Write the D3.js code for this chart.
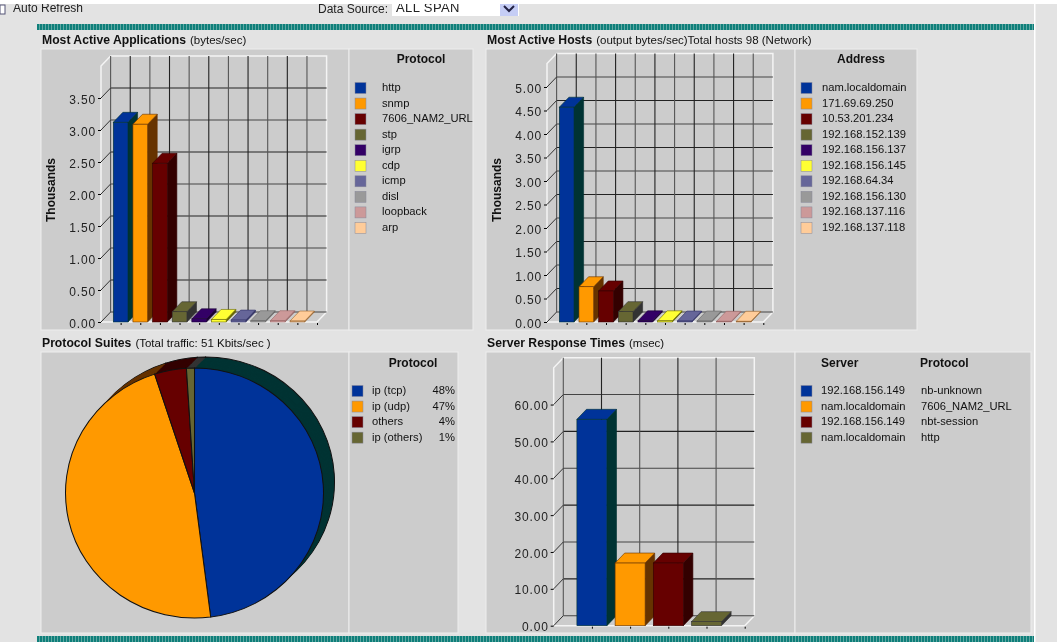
<!DOCTYPE html>
<html>
<head>
<meta charset="utf-8">
<script src="https://d3js.org/d3.v7.min.js"></script>
<style>
    html, body { margin: 0; padding: 0; background: #e3e3e3; overflow: hidden; }
    svg { display: block; font-family: "Liberation Sans", Arial, sans-serif; filter: blur(0.35px); }
    .axisTick text { font-size: 12px; letter-spacing: 0.85px; fill: #222; }
    .legend { font-size: 11.2px; fill: #111; }
    .head { font-size: 12px; font-weight: bold; fill: #111; }
    .title { font-size: 12.2px; fill: #111; }
</style>
</head>
<body>
<svg id="chart" width="1057" height="642"></svg>
<script>
// palette shared by every chart, front colour and darker side colour
var colors = ["#003399", "#ff9900", "#660000", "#666633", "#330066", "#ffff33", "#666699", "#999999", "#cc9999", "#ffcc99"];
var sideColors = ["#003333", "#663300", "#330000", "#333333", "#1a0033", "#666600", "#333366", "#666666", "#996666", "#996633"];

// Most Active Applications
var appNames = ["http", "snmp", "7606_NAM2_URL", "stp", "igrp", "cdp", "icmp", "disl", "loopback", "arp"];
var appValues = [3.12, 3.09, 2.48, 0.16, 0.05, 0.04, 0.03, 0.02, 0.02, 0.015];
var appTicks = [0, 0.5, 1, 1.5, 2, 2.5, 3, 3.5];

// Most Active Hosts
var hostNames = ["nam.localdomain", "171.69.69.250", "10.53.201.234", "192.168.152.139", "192.168.156.137", "192.168.156.145", "192.168.64.34", "192.168.156.130", "192.168.137.116", "192.168.137.118"];
var hostValues = [4.57, 0.75, 0.66, 0.22, 0.025, 0.025, 0.02, 0.02, 0.015, 0.015];
var hostTicks = [0, 0.5, 1, 1.5, 2, 2.5, 3, 3.5, 4, 4.5, 5];

// Protocol Suites
var suiteNames = ["ip (tcp)", "ip (udp)", "others", "ip (others)"];
var suitePercents = [48, 47, 4, 1];

// Server Response Times
var serverNames = ["192.168.156.149", "nam.localdomain", "192.168.156.149", "nam.localdomain"];
var serverProtocols = ["nb-unknown", "7606_NAM2_URL", "nbt-session", "http"];
var serverValues = [56, 17, 17, 1.1];
var serverTicks = [0, 10, 20, 30, 40, 50, 60];

var svg = d3.select("#chart");

// teal stripe texture
var stripe = svg.append("defs").append("pattern")
    .attr("id", "stripe").attr("width", 3).attr("height", 6)
    .attr("patternUnits", "userSpaceOnUse");
stripe.append("rect").attr("width", 3).attr("height", 6).attr("fill", "#0f7f7a");
stripe.append("rect").attr("width", 1).attr("height", 6).attr("fill", "#5fa8a3");

// page furniture
svg.append("rect").attr("width", 1057).attr("height", 4).attr("fill", "#fff");
svg.append("rect").attr("x", 37).attr("y", 24).attr("width", 997).attr("height", 6).attr("fill", "url(#stripe)");
svg.append("rect").attr("x", 37).attr("y", 636).attr("width", 997).attr("height", 6).attr("fill", "url(#stripe)");
svg.append("rect").attr("x", 1034).attr("y", 4).attr("width", 1.5).attr("height", 638).attr("fill", "#fff");

svg.append("rect").attr("x", 0).attr("y", 5).attr("width", 5).attr("height", 9)
    .attr("fill", "#fff").attr("stroke", "#557").attr("stroke-width", 1);
svg.append("text").attr("x", 13).attr("y", 12).attr("font-size", 12).attr("fill", "#222").text("Auto Refresh");
svg.append("text").attr("x", 318).attr("y", 13).attr("font-size", 12).attr("fill", "#222").text("Data Source:");
svg.append("rect").attr("x", 392).attr("y", 4).attr("width", 127).attr("height", 12).attr("fill", "#fff");
svg.append("text").attr("x", 396).attr("y", 12).attr("font-size", 13).attr("letter-spacing", 0.4).attr("fill", "#222").text("ALL SPAN");
svg.append("rect").attr("x", 500).attr("y", 4).attr("width", 18).attr("height", 12).attr("fill", "#c5cdf5");
svg.append("path").attr("d", "M504 6 L509 11 L514 6").attr("fill", "none").attr("stroke", "#224", "stroke-width", 2).attr("stroke-width", 2);
svg.append("rect").attr("y", 0).attr("width", 1057).attr("height", 4).attr("fill", "#fff");

function drawPanel(p) {
    svg.append("rect").attr("x", p.x).attr("y", p.y).attr("width", p.divider - p.x).attr("height", p.h)
        .attr("fill", "#ccc").attr("stroke", "#eee");
    svg.append("rect").attr("x", p.divider).attr("y", p.y).attr("width", p.right - p.divider).attr("height", p.h)
        .attr("fill", "#ccc").attr("stroke", "#eee");
    var t = svg.append("text").attr("class", "title").attr("x", p.x + 1).attr("y", p.y - 5);
    t.append("tspan").attr("font-weight", "bold").text(p.title);
    t.append("tspan").attr("dx", 4).attr("font-size", 11.5).text(p.sub);
}

function drawBars(c) {
    var g = svg.append("g");
    var y = d3.scaleLinear().domain([0, c.max]).range([c.y0, c.yTop]);
    var step = (c.right - c.left) / (c.names.length + 1);
    var x = d3.scalePoint().domain(c.names.map(function (d, i) { return i; }).concat([c.names.length]))
        .range([c.left + step, c.right]);
    var dx = c.dx, dy = c.dy;

    // walls and floor outline
    g.append("path")
        .attr("d", "M" + c.left + " " + c.y0 + " L" + c.left + " " + c.yTop + " L" + (c.left + dx) + " " + (c.yTop - dy)
            + " L" + (c.right + dx) + " " + (c.yTop - dy) + " L" + (c.right + dx) + " " + (c.y0 - dy)
            + " L" + c.right + " " + c.y0 + " Z")
        .attr("fill", "none").attr("stroke", "#f4f4f4").attr("stroke-width", 1.5);

    // grid on the back wall
    g.selectAll(".hgrid").data(c.ticks.concat()).enter().append("line")
        .attr("x1", c.left + dx).attr("x2", c.right + dx)
        .attr("y1", function (d) { return y(d) - dy; }).attr("y2", function (d) { return y(d) - dy; })
        .attr("stroke", function (d, i) { return i % 2 ? "#222" : "#444"; }).attr("stroke-width", 1.1);
    g.selectAll(".vgrid").data(d3.range(c.names.length + 1)).enter().append("line")
        .attr("x1", function (i) { return c.left + dx + i * step; })
        .attr("x2", function (i) { return c.left + dx + i * step; })
        .attr("y1", c.yTop - dy).attr("y2", c.y0 - dy)
        .attr("stroke", function (i) { return i % 2 ? "#222" : "#555"; }).attr("stroke-width", 1.1);

    // diagonal joins from the front axis to the back wall
    g.selectAll(".join").data(c.ticks).enter().append("line")
        .attr("x1", c.left).attr("x2", c.left + dx)
        .attr("y1", function (d) { return y(d); }).attr("y2", function (d) { return y(d) - dy; })
        .attr("stroke", "#333").attr("stroke-width", 1);

    // axes
    var yAxis = g.append("g").attr("class", "axisTick")
        .attr("transform", "translate(" + c.left + ",0)")
        .call(d3.axisLeft(y).tickValues(c.ticks).tickFormat(d3.format(".2f")).tickSize(3).tickPadding(1));
    yAxis.select(".domain").remove();
    yAxis.selectAll("text").attr("dy", "0.9em").attr("dx", "-1");
    yAxis.selectAll("text").attr("dy", "0.42em");

    var xAxis = g.append("g")
        .attr("transform", "translate(0," + (c.y0 + 1) + ")")
        .call(d3.axisBottom(x).tickSize(2).tickFormat(""));
    xAxis.select(".domain").remove();

    // bars, left to right so each one covers the side of the previous
    var w = c.barW;
    c.values.forEach(function (v, i) {
        var x0 = x(i) - w / 2, x1 = x(i) + w / 2, top = y(v);
        var pts = function (a) { return a.map(function (p) { return p.join(","); }).join(" "); };
        g.append("polygon")
            .attr("points", pts([[x1, c.y0], [x1 + dx, c.y0 - dy], [x1 + dx, top - dy], [x1, top]]))
            .attr("fill", sideColors[i]).attr("stroke", sideColors[i]).attr("stroke-width", 0.6);
        g.append("polygon")
            .attr("points", pts([[x0, top], [x0 + dx, top - dy], [x1 + dx, top - dy], [x1, top]]))
            .attr("fill", colors[i]).attr("stroke", sideColors[i]).attr("stroke-width", 0.6);
        g.append("rect").attr("x", x0).attr("y", top).attr("width", w).attr("height", Math.max(c.y0 - top, 0.5))
            .attr("fill", colors[i]).attr("stroke", sideColors[i]).attr("stroke-width", 0.6);
    });

    if (c.yLabel) {
        g.append("text").attr("class", "head")
            .attr("transform", "translate(" + (c.left - 46) + "," + c.labelY + ") rotate(-90)")
            .attr("text-anchor", "middle").text(c.yLabel);
    }
}

function drawPie(c) {
    var g = svg.append("g");
    var slices = d3.pie().sort(null)(c.values);
    var arc = d3.arc().innerRadius(0).outerRadius(c.ry);
    var sx = c.rx / c.ry;

    // extruded rim, back layer first
    d3.range(c.depth, 0, -1).forEach(function (k) {
        var f = k / c.depth;
        var layer = g.append("g")
            .attr("transform", "translate(" + (c.cx + c.dx * f) + "," + (c.cy - c.dy * f) + ") scale(" + sx + ",1)");
        layer.selectAll("path").data(slices).enter().append("path")
            .attr("d", arc)
            .attr("fill", function (d, i) { return sideColors[i]; })
            .attr("stroke", k === c.depth ? "#111" : "none")
            .attr("stroke-width", 1);
    });

    var front = g.append("g")
        .attr("transform", "translate(" + c.cx + "," + c.cy + ") scale(" + sx + ",1)");
    front.selectAll("path").data(slices).enter().append("path")
        .attr("d", arc)
        .attr("fill", function (d, i) { return colors[i]; })
        .attr("stroke", "#111").attr("stroke-width", 1);
}

function drawLegend(x, y0, step, rows, textX) {
    var g = svg.append("g");
    rows.forEach(function (r, i) {
        var y = y0 + i * step;
        g.append("rect").attr("x", x).attr("y", y - 4.5).attr("width", 11).attr("height", 11)
            .attr("fill", colors[i]).attr("stroke", "#889").attr("stroke-width", 0.5);
        g.append("text").attr("class", "legend").attr("x", textX).attr("y", y + 4).text(r);
    });
}

function legendHead(x, y, text, anchor) {
    svg.append("text").attr("class", "head").attr("x", x).attr("y", y)
        .attr("text-anchor", anchor).text(text);
}

drawPanel({x: 41, y: 49, divider: 349, right: 473, h: 281, title: "Most Active Applications", sub: "(bytes/sec)"});
drawPanel({x: 486, y: 49, divider: 795, right: 917, h: 281, title: "Most Active Hosts", sub: "(output bytes/sec)Total hosts 98 (Network)"});
drawPanel({x: 41, y: 352, divider: 349, right: 458, h: 281, title: "Protocol Suites", sub: "(Total traffic: 51 Kbits/sec )"});
drawPanel({x: 486, y: 352, divider: 795, right: 1031, h: 281, title: "Server Response Times", sub: "(msec)"});

drawBars({names: appNames, values: appValues, ticks: appTicks, max: 4, left: 101, right: 317, y0: 322, yTop: 66,
    dx: 9.6, dy: 10, barW: 14.7, yLabel: "Thousands", labelY: 190});
drawBars({names: hostNames, values: hostValues, ticks: hostTicks, max: 5.5, left: 547, right: 763.3, y0: 322, yTop: 63.5,
    dx: 9.6, dy: 10, barW: 14.7, yLabel: "Thousands", labelY: 190});
drawBars({names: serverNames, values: serverValues, ticks: serverTicks, max: 70, left: 553.7, right: 744.7, y0: 625.7, yTop: 367.7,
    dx: 9.6, dy: 10, barW: 30});
drawPie({values: suitePercents, cx: 194.5, cy: 493, rx: 129, ry: 125, dx: 11, dy: 11, depth: 12});

legendHead(421, 63, "Protocol", "middle");
drawLegend(355, 87, 15.55, appNames, 382);
legendHead(861, 63, "Address", "middle");
drawLegend(801, 87, 15.55, hostNames, 822);
legendHead(413, 367, "Protocol", "middle");
drawLegend(352, 390, 15.55, suiteNames, 372);
suitePercents.forEach(function (p, i) {
    svg.append("text").attr("class", "legend").attr("x", 455).attr("y", 394 + i * 15.55)
        .attr("text-anchor", "end").text(p + "%");
});
legendHead(821, 367, "Server", "start");
legendHead(920, 367, "Protocol", "start");
drawLegend(801, 390, 15.55, serverNames, 821);
serverProtocols.forEach(function (p, i) {
    svg.append("text").attr("class", "legend").attr("x", 921).attr("y", 394 + i * 15.55).text(p);
});
</script>
</body>
</html>
